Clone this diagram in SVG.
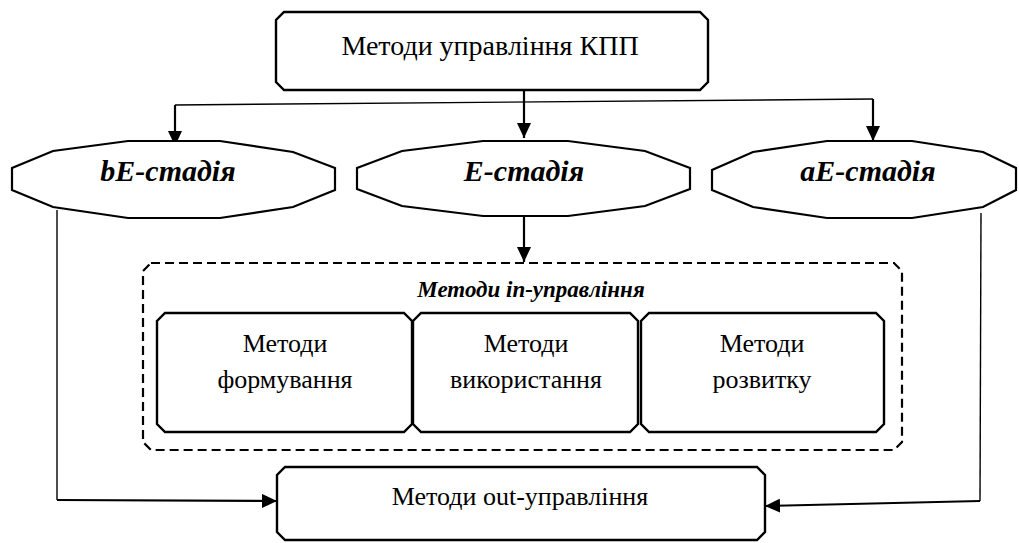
<svg xmlns="http://www.w3.org/2000/svg" width="1019" height="543" viewBox="0 0 1019 543">
<defs>
<marker id="ah" viewBox="0 0 15 14" refX="15" refY="7" markerWidth="15" markerHeight="14" markerUnits="userSpaceOnUse" orient="auto">
<path d="M0,0 L15,7 L0,14 Z" fill="#000"/>
</marker>
<style>
.box{fill:#fff;stroke:#000;stroke-width:2.4;stroke-linejoin:miter}
.oct{fill:#fff;stroke:#000;stroke-width:2.2}
.dash{fill:none;stroke:#000;stroke-width:2.2;stroke-dasharray:9 5}
.t{font-family:"Liberation Serif","Times New Roman",serif;fill:#000;text-anchor:middle}
.bi{font-weight:bold;font-style:italic}
.c{fill:none;stroke:#000;stroke-width:2.2}
.ct{fill:none;stroke:#000;stroke-width:1.4}
</style>
</defs>
<rect width="1019" height="543" fill="#fff"/>

<g id="connectors">
<path class="ct" d="M175,105 L873,99"/>
<path class="c" d="M175,105 L175,146" marker-end="url(#ah)"/>
<path class="c" d="M524,90 L524,138" marker-end="url(#ah)"/>
<path class="c" d="M873,99 L873,141" marker-end="url(#ah)"/>
<path class="c" d="M524,216 L524,262" marker-end="url(#ah)"/>
<path class="ct" d="M57,210 L57,500"/>
<path class="c" d="M57,500 L277,501" marker-end="url(#ah)"/>
<path class="ct" d="M981,213 L980,501"/>
<path class="c" d="M980,501 L765,506" marker-end="url(#ah)"/>
</g>

<g id="top">
<path class="box" d="M284,12 L700,12 L708,20 L708,82 L700,90 L284,90 L276,82 L276,20 Z"/>
<text class="t" x="490" y="55" font-size="28">Методи управління КПП</text>
</g>

<g id="bE">
<path class="oct" d="M128,141 L220,141 L293,152 L335,168 L335,190 L293,207 L220,218 L128,218 L53,207 L12,190 L12,168 L53,151 Z"/>
<text class="t bi" x="168" y="181" font-size="30">bE-стадія</text>
</g>

<g id="E">
<path class="oct" d="M483,141 L568,141 L645,151 L690,168 L690,189 L645,206 L568,216 L483,216 L402,206 L357,189 L357,168 L402,151 Z"/>
<text class="t bi" x="524" y="181" font-size="30">E-стадія</text>
</g>

<g id="aE">
<path class="oct" d="M827,141 L912,141 L983,152 L1016,168 L1016,190 L983,207 L912,218 L827,218 L753,207 L712,190 L712,170 L753,152 Z"/>
<text class="t bi" x="868" y="181" font-size="30">aE-стадія</text>
</g>

<g id="in">
<path class="dash" d="M151,263 L894,263 L902,271 L902,442 L894,450 L151,450 L143,442 L143,271 Z"/>
<text class="t bi" x="531" y="297" font-size="23">Методи in-управління</text>
</g>

<g id="form">
<path class="box" d="M165,313 L404,313 L412,321 L412,424 L404,432 L165,432 L157,424 L157,321 Z"/>
<text class="t" x="285" y="352" font-size="26">Методи</text>
<text class="t" x="285" y="388" font-size="26">формування</text>
</g>

<g id="use">
<path class="box" d="M421,313 L630,313 L638,321 L638,424 L630,432 L421,432 L413,424 L413,321 Z"/>
<text class="t" x="526" y="352" font-size="26">Методи</text>
<text class="t" x="526" y="388" font-size="26">використання</text>
</g>

<g id="dev">
<path class="box" d="M649,313 L876,313 L884,321 L884,424 L876,432 L649,432 L641,424 L641,321 Z"/>
<text class="t" x="762" y="352" font-size="26">Методи</text>
<text class="t" x="762" y="388" font-size="26">розвитку</text>
</g>

<g id="out">
<path class="box" d="M285,467 L757,467 L765,475 L765,532 L757,540 L285,540 L277,532 L277,475 Z"/>
<text class="t" x="520" y="505" font-size="26">Методи out-управління</text>
</g>
</svg>
